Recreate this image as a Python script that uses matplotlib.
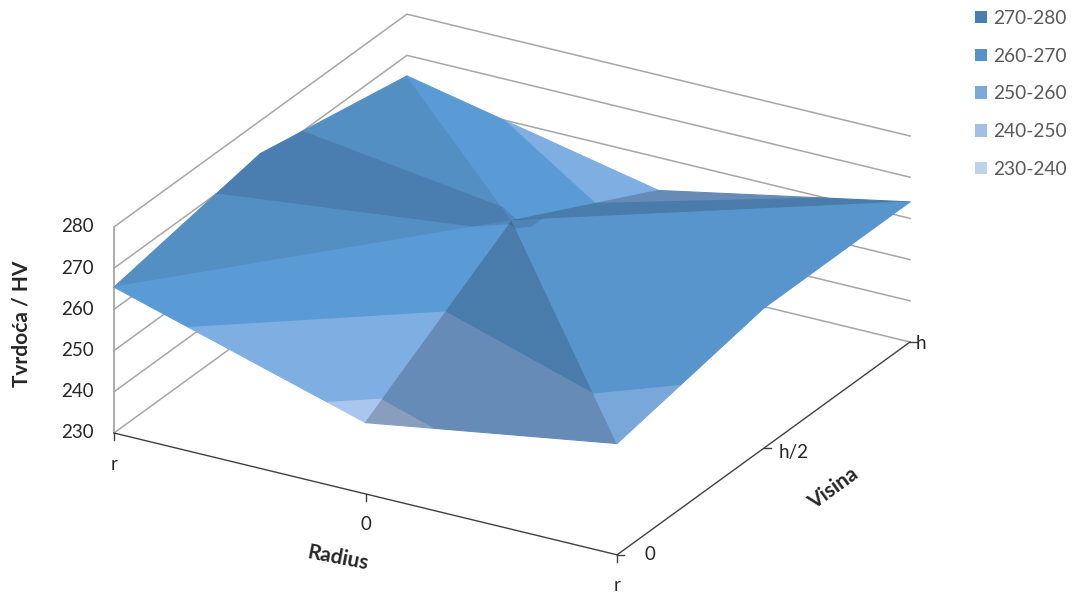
import matplotlib
matplotlib.use("Agg")
import matplotlib.pyplot as plt
from matplotlib.lines import Line2D
from matplotlib.patches import Patch
from matplotlib.transforms import IdentityTransform
from mpl_toolkits.mplot3d import proj3d
from mpl_toolkits.mplot3d.art3d import Poly3DCollection

W, H = 1077, 594

radius_labels = ["r", "0", "r"]
visina_labels = ["0", "h/2", "h"]
z_ticks = [230, 240, 250, 260, 270, 280]

# hardness, rows = Visina (0, h/2, h), columns = Radius (r, 0, r)
row_0 = [265.4, 247.3, 257.0]
row_h2 = [272.0, 270.5, 264.0]
row_h = [265.0, 252.0, 264.0]

band_edges = [230, 240, 250, 260, 270, 280]
band_colors = ["#c3d6f0", "#abc6ee", "#7faee3", "#5b9bd5", "#5089bf"]
legend_colors = ["#c0d3ec", "#a3bfe3", "#7ca9dc", "#5591cb", "#4a7eb0"]
legend_labels = ["230-240", "240-250", "250-260", "260-270", "270-280"]

# facets fan out from the middle node, brightness of each one
perimeter = [(0, 0), (1, 0), (2, 0), (2, 1), (2, 2), (1, 2), (0, 2), (0, 1)]
facet_shade = [1.0, 0.80, 0.96, 0.96, 0.80, 1.0, 0.92, 0.92]


def clip_z(poly, lo, hi):
    for limit, keep_above in ((lo, True), (hi, False)):
        out = []
        for i in range(len(poly)):
            a, b = poly[i], poly[(i + 1) % len(poly)]
            ina = a[2] >= limit if keep_above else a[2] <= limit
            inb = b[2] >= limit if keep_above else b[2] <= limit
            if ina:
                out.append(a)
            if ina != inb:
                t = (limit - a[2]) / (b[2] - a[2])
                out.append((a[0] + t * (b[0] - a[0]), a[1] + t * (b[1] - a[1]), limit))
        poly = out
        if not poly:
            break
    return poly


def shaded(color, k):
    r, g, b = matplotlib.colors.to_rgb(color)
    return (r * k, g * k, b * k)


plt.rcParams["font.family"] = ["Lato", "DejaVu Sans"]
fig = plt.figure(figsize=(W / 100, H / 100), dpi=100)
ax = fig.add_axes([0, 0, 1, 1], projection="3d", computed_zorder=False)
ax.set_proj_type("ortho")
ax.view_init(elev=24.8, azim=-60)
ax.set_xlim(0, 2, view_margin=0)
ax.set_ylim(0, 2, view_margin=0)
ax.set_zlim(230, 280, view_margin=0)
ax.set_axis_off()
ax.patch.set_alpha(0)
aspect = (581, 586, 227)


def px(x, y, z):
    ax.apply_aspect()
    u, v, _ = proj3d.proj_transform(x, y, z, ax.get_proj())
    return ax.transData.transform((u, v))


# fit size and place of the box to the floor corners of the chart
ax.set_box_aspect(aspect, zoom=1.0)
fig.canvas.draw()
span = px(2, 2, 230)[0] - px(0, 0, 230)[0]
ax.set_box_aspect(aspect, zoom=796 / span)
fig.canvas.draw()
p0 = px(0, 0, 230)
ax.set_position([(114 - p0[0]) / W, (H - 433 - p0[1]) / H, 1, 1])
fig.canvas.draw()

# walls
for z in z_ticks:
    ax.plot([0, 0, 2], [0, 2, 2], [z, z, z], color="#a6a6a6", lw=1.1, zorder=1, clip_on=False)
ax.plot([0, 0], [0, 0], [230, 280], color="#a6a6a6", lw=1.3, zorder=1, clip_on=False)
ax.plot([0, 2, 2], [0, 0, 2], [230, 230, 230], color="#404040", lw=1.0, zorder=2, clip_on=False)

# surface
grid = [row_0, row_h2, row_h]
mid = (1, 1, grid[1][1])
polys, faces = [], []
for i in range(len(perimeter)):
    p, q = perimeter[i], perimeter[(i + 1) % len(perimeter)]
    tri = [mid, (p[0], p[1], grid[p[1]][p[0]]), (q[0], q[1], grid[q[1]][q[0]])]
    for b in range(len(band_colors)):
        piece = clip_z(tri, band_edges[b], band_edges[b + 1])
        if len(piece) >= 3:
            polys.append(piece)
            faces.append(shaded(band_colors[b], facet_shade[i]))
surface = Poly3DCollection(polys, facecolors=faces, edgecolors=faces, linewidths=0.8, zorder=3)
surface.set_clip_on(False)
ax.add_collection3d(surface)

# ticks and tick labels
tf = IdentityTransform()
tick_kw = dict(transform=tf, color="#262626", fontsize=13.5, ha="center", va="center")
for i, lab in enumerate(radius_labels):
    x0, y0 = px(i, 0, 230)
    fig.add_artist(Line2D([x0, x0], [y0, y0 - 7], transform=tf, color="#404040", lw=1))
    fig.text(x0, y0 - 31, lab, **tick_kw)
offsets = [(33, 0), (30, -4), (11, -1)]
for j, lab in enumerate(visina_labels):
    x0, y0 = px(2, j, 230)
    fig.add_artist(Line2D([x0, x0 + 7], [y0, y0], transform=tf, color="#404040", lw=1))
    fig.text(x0 + offsets[j][0], y0 + offsets[j][1], lab, **tick_kw)
for z in z_ticks:
    x0, y0 = px(0, 0, z)
    fig.text(x0 - 20, y0, str(z), transform=tf, color="#262626", fontsize=13.5, ha="right", va="center")

# axis titles
title_kw = dict(color="#262626", fontsize=15, fontweight="bold", ha="center", va="center")
fig.text(22 / W, 1 - 324 / H, "Tvrdoća / HV", rotation=90, **title_kw)
fig.text(338 / W, 1 - 558 / H, "Radius", rotation=-11, **title_kw)
fig.text(833 / W, 1 - 489 / H, "Visina", rotation=36, **title_kw)

# legend
handles = [Patch(facecolor=c, edgecolor="none") for c in legend_colors[::-1]]
fig.legend(handles, legend_labels[::-1], loc="upper left", bbox_to_anchor=(975 / W, 1 - 10 / H),
           frameon=False, fontsize=13.8, labelcolor="#595959", handlelength=0.62, handleheight=0.62,
           handletextpad=0.31, labelspacing=1.08, borderpad=0, borderaxespad=0)

fig.savefig("out.png", dpi=100)
